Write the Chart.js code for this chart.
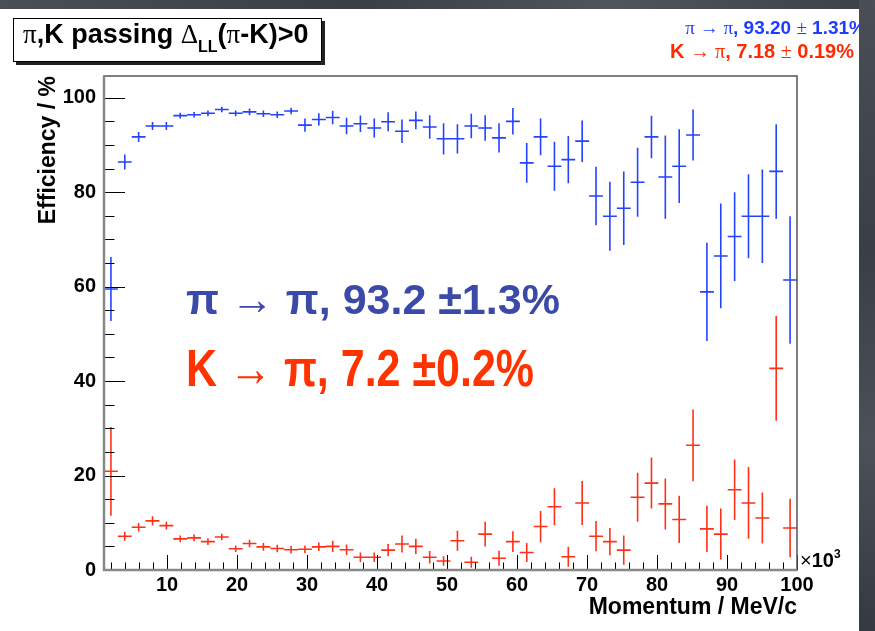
<!DOCTYPE html>
<html><head><meta charset="utf-8">
<script src="https://cdn.jsdelivr.net/npm/chart.js@4/dist/chart.umd.min.js"></script>
<style>
html,body{margin:0;padding:0;}
body{width:875px;height:631px;position:relative;overflow:hidden;background:#fff;font-family:"Liberation Sans",Arial,sans-serif;}
#c{position:absolute;left:0;top:0;}
.t{position:absolute;white-space:nowrap;font-weight:bold;line-height:1;}
.sym{font-family:"Liberation Serif","DejaVu Serif",serif;font-weight:normal;}
#titlebox{position:absolute;left:13px;top:18px;width:307px;height:42px;border:1px solid #000;box-shadow:3px 3px 0 #222;background:#fff;}
#bgTop{position:absolute;left:0;top:0;width:875px;height:9px;background:linear-gradient(90deg,#4a4f55,#3a3f45 40%,#50555b 70%,#3c4147);}
#bgRight{position:absolute;left:859px;top:0;width:16px;height:631px;background:linear-gradient(180deg,#4a4f55,#3a3f45 40%,#4c5157 70%,#353a40);}
</style>
</head><body>
<canvas id="c" width="875" height="631"></canvas>
<div id="titlebox"></div>
<div class="t" style="left:23px;top:21px;font-size:27px;color:#000;"><span class="sym">π</span>,K passing <span class="sym">Δ</span><span style="font-size:16px;position:relative;top:9px;">LL</span>(<span class="sym">π</span>-K)&gt;0</div>
<div class="t" style="right:9px;top:18px;font-size:19px;color:#1f3dff;"><span class="sym">π → π</span>, 93.20 <span class="sym">±</span> 1.31%</div>
<div class="t" style="right:21px;top:41px;font-size:20px;color:#ff2a00;">K <span class="sym">→ π</span>, 7.18 <span class="sym">±</span> 0.19%</div>
<div class="t" style="left:186px;top:278px;font-size:43px;color:#3b4aa8;">π → π, 93.2 ±1.3%</div>
<div class="t" style="left:186px;top:343px;font-size:43px;color:#ff3300;transform:scale(1,1.2);transform-origin:0 0;">K → π, 7.2 ±0.2%</div>
<div class="t" style="left:800px;top:550px;font-size:20px;color:#000;"><span style="font-weight:normal">×</span>10<span style="font-size:12px;position:relative;top:-9px;">3</span></div>
<div id="bgTop"></div>
<div id="bgRight"></div>
<script>
// ---- data (momentum bins in units of 10^3 MeV/c) ----
const binCenters = [1.99,3.97,5.95,7.93,9.91,11.89,13.87,15.85,17.83,19.81,
  21.79,23.77,25.75,27.73,29.71,31.69,33.67,35.65,37.63,39.61,
  41.59,43.57,45.55,47.53,49.51,51.49,53.47,55.45,57.43,59.41,
  61.39,63.37,65.35,67.33,69.31,71.29,73.27,75.25,77.23,79.21,
  81.19,83.17,85.15,87.13,89.11,91.09,93.07,95.05,97.03,99.01];
const piToPi = [59.5,86.4,91.7,94.0,94.0,96.2,96.4,96.7,97.5,96.7,
  97.0,96.6,96.4,97.2,94.2,95.4,95.8,94.0,94.5,93.6,
  94.9,92.9,95.2,93.8,91.3,91.3,94.0,93.6,91.5,95.0,
  86.2,91.7,85.5,86.9,90.8,79.2,74.9,76.6,82.1,91.7,
  83.2,85.5,92.1,58.9,66.5,70.6,74.9,74.9,84.4,61.4];
const piToPiErr = [6.8,1.6,1.05,0.85,0.85,0.6,0.6,0.6,0.6,0.6,
  0.7,0.7,0.7,0.7,1.4,1.3,1.44,1.76,1.76,2.0,
  2.0,2.5,1.9,2.5,3.3,3.1,2.6,2.7,3.1,2.8,
  4.2,3.9,5.2,5.0,4.4,6.2,7.3,7.8,7.3,4.5,
  8.8,7.8,5.4,10.4,11.1,9.4,8.9,9.9,10.0,13.5];
const kToPi = [20.9,7.15,9.05,10.4,9.4,6.6,6.8,6.0,7.0,4.5,
  5.6,4.9,4.55,4.3,4.4,4.9,5.0,4.3,2.7,2.7,
  4.2,5.5,5.0,2.7,1.9,6.2,1.65,7.6,2.5,6.0,
  3.7,9.2,13.4,2.8,14.2,7.15,6.0,4.2,15.4,18.4,
  14.0,10.7,26.4,8.7,7.6,17.0,14.2,11.0,42.7,8.9];
const kToPiErr = [9.4,0.95,0.9,1.0,0.8,0.7,0.7,0.7,0.7,0.7,
  0.8,0.8,0.8,0.8,0.8,0.9,1.2,1.1,1.0,1.0,
  1.3,1.8,1.6,1.3,1.0,2.1,1.15,2.6,1.6,2.2,
  2.0,3.3,3.9,2.1,4.65,3.2,2.9,3.1,5.2,5.4,
  5.4,5.0,7.6,4.9,5.4,6.4,7.6,5.4,11.1,6.2];
const xTickLabels = [10,20,30,40,50,60,70,80,90,100];
const yTickLabels = [0,20,40,60,80,100];
const xMinorTicks = [2,4,6,8,12,14,16,18,22,24,26,28,32,34,36,38,42,44,46,48,52,54,56,58,62,64,66,68,72,74,76,78,82,84,86,88,92,94,96,98];
const yMinorTicks = [5,10,15,25,30,35,45,50,55,65,70,75,85,90,95];
const halfBin = 0.99;

const frameTicks = {
  id:'frameTicks',
  afterDatasetsDraw(chart){
    const {ctx, chartArea:a, scales:{x,y}} = chart;
    ctx.save();
    ctx.strokeStyle='#000'; ctx.lineWidth=1;
    ctx.beginPath();
    yTickLabels.forEach(v=>{const p=Math.round(y.getPixelForValue(v))+0.5; ctx.moveTo(a.left,p); ctx.lineTo(a.left+21,p);});
    yMinorTicks.forEach(v=>{const p=Math.round(y.getPixelForValue(v))+0.5; ctx.moveTo(a.left,p); ctx.lineTo(a.left+10.5,p);});
    xTickLabels.forEach(v=>{const p=Math.round(x.getPixelForValue(v))+0.5; ctx.moveTo(p,a.bottom); ctx.lineTo(p,a.bottom-15);});
    xMinorTicks.forEach(v=>{const p=Math.round(x.getPixelForValue(v))+0.5; ctx.moveTo(p,a.bottom); ctx.lineTo(p,a.bottom-7.5);});
    ctx.stroke();
    ctx.strokeStyle='#555'; ctx.lineWidth=1.5;
    ctx.strokeRect(a.left, a.top, a.right-a.left, a.bottom-a.top);
    ctx.strokeStyle='#888'; ctx.lineWidth=2.5;
    ctx.beginPath(); ctx.moveTo(a.left,a.top); ctx.lineTo(a.left,a.bottom); ctx.lineTo(a.right,a.bottom); ctx.stroke();
    ctx.restore();
  }
};
const errorBars = {
  id:'errorBars',
  afterDatasetsDraw(chart){
    const {ctx, chartArea:a, scales:{x,y}} = chart;
    ctx.save();
    ctx.beginPath(); ctx.rect(a.left,a.top,a.right-a.left,a.bottom-a.top); ctx.clip();
    chart.data.datasets.forEach(ds=>{
      ctx.strokeStyle = ds.borderColor; ctx.lineWidth = 1.6;
      ctx.beginPath();
      ds.data.forEach((pt,i)=>{
        const e = ds.errors[i];
        const px = x.getPixelForValue(pt.x), py = y.getPixelForValue(pt.y);
        ctx.moveTo(x.getPixelForValue(pt.x-halfBin), py);
        ctx.lineTo(x.getPixelForValue(pt.x+halfBin), py);
        ctx.moveTo(px, y.getPixelForValue(pt.y+e));
        ctx.lineTo(px, y.getPixelForValue(pt.y-e));
      });
      ctx.stroke();
    });
    ctx.restore();
  }
};

new Chart(document.getElementById('c'), {
  type:'scatter',
  data:{datasets:[
    {label:'π → π', data: binCenters.map((v,i)=>({x:v,y:piToPi[i]})), errors: piToPiErr, borderColor:'#2443ff', backgroundColor:'#2443ff', pointRadius:0, showLine:false},
    {label:'K → π', data: binCenters.map((v,i)=>({x:v,y:kToPi[i]})), errors: kToPiErr, borderColor:'#ff3018', backgroundColor:'#ff3018', pointRadius:0, showLine:false}
  ]},
  options:{
    responsive:false, animation:false,
    layout:{padding:{left:0, top:76, right:78, bottom:0}},
    plugins:{legend:{display:false}, tooltip:{enabled:false}},
    scales:{
      x:{type:'linear', min:1, max:100,
        afterBuildTicks(s){ s.ticks = xTickLabels.map(v=>({value:v})); },
        afterFit(s){ s.height = 61; },
        grid:{display:false, drawTicks:false}, border:{display:false},
        ticks:{color:'#000', padding:3, maxRotation:0, autoSkip:false, font:{family:'Liberation Sans', size:20, weight:'bold'}},
        title:{display:true, text:'Momentum / MeV/c', align:'end', color:'#000', padding:{top:0,bottom:10}, font:{family:'Liberation Sans', size:23, weight:'bold'}}
      },
      y:{type:'linear', min:0, max:104.6,
        afterBuildTicks(s){ s.ticks = yTickLabels.map(v=>({value:v})); },
        afterFit(s){ s.width = 104; },
        grid:{display:false, drawTicks:false}, border:{display:false},
        ticks:{color:'#000', padding:8, autoSkip:false, font:{family:'Liberation Sans', size:20, weight:'bold'}},
        title:{display:true, text:'Efficiency / %', align:'end', color:'#000', padding:{top:35,bottom:0}, font:{family:'Liberation Sans', size:23, weight:'bold'}}
      }
    }
  },
  plugins:[errorBars, frameTicks]
});
</script>
</body></html>
